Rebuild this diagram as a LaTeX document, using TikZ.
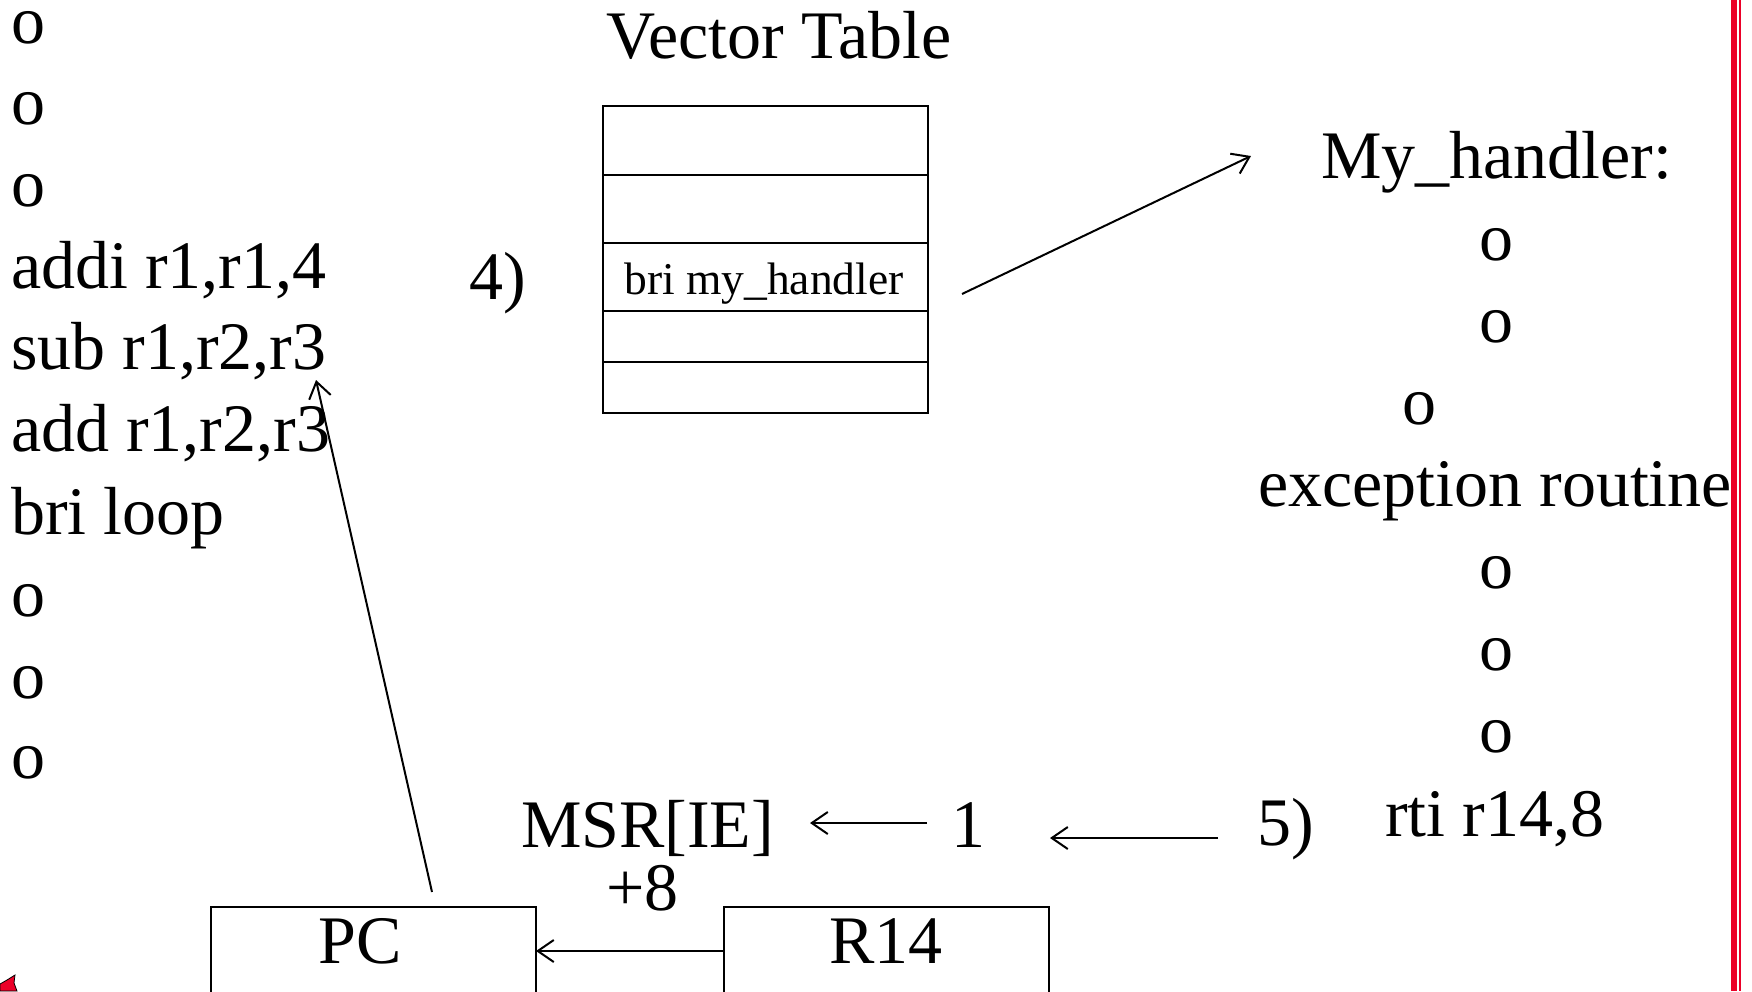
\documentclass[tikz,border=0pt]{standalone}
\usepackage{fontspec}
\setmainfont{Liberation Serif}
\usetikzlibrary{arrows.meta}
\definecolor{barred}{RGB}{235,0,40}
\tikzset{
  txt/.style={inner sep=0pt, outer sep=0pt, font=\fontsize{68}{81}\selectfont},
  smalltxt/.style={inner sep=0pt, outer sep=0pt, font=\fontsize{45.5}{54}\selectfont},
  arr/.style={line width=2pt, -{Straight Barb[length=16pt,width=22pt]}},
  cell/.style={draw, line width=2.4pt, minimum width=325pt, inner sep=0pt, outer sep=0pt, anchor=north west},
  regbox/.style={draw, line width=2.4pt, minimum width=325pt, minimum height=88pt, inner sep=0pt, outer sep=0pt, anchor=north west}
}
\begin{document}
\begin{tikzpicture}[x=1pt,y=-1pt]
\useasboundingbox (0,0) rectangle (1752,991);
\fill[white] (0,0) rectangle (1752,991);
\clip (0,0) rectangle (1752,991);

% program listing on the left
\node[txt, anchor=base west] (l1)  at (11,43)    {o};
\node[txt, anchor=base west] (l2)  at (11,124.7) {o};
\node[txt, anchor=base west] (l3)  at (11,206.4) {o};
\node[txt, anchor=base west] (l4)  at (11,288.1) {addi r1,r1,4};
\node[txt, anchor=base west] (l5)  at (11,369.8) {sub r1,r2,r3};
\node[txt, anchor=base west] (l6)  at (11,451.5) {add r1,r2,r3};
\node[txt, anchor=base west] (l7)  at (11,534.5) {bri loop};
\node[txt, anchor=base west] (l8)  at (11,616.5) {o};
\node[txt, anchor=base west] (l9)  at (11,698) {o};
\node[txt, anchor=base west] (l10) at (11,778.3) {o};

% vector table
\node[txt, anchor=base] (vttitle) at (779,58) {Vector Table};
\node[cell, minimum height=69pt] (row1) at (603,106) {};
\node[cell, minimum height=68pt] (row2) at (603,175) {};
\node[cell, minimum height=68pt] (row3) at (603,243) {};
\node[cell, minimum height=51pt] (row4) at (603,311) {};
\node[cell, minimum height=51pt] (row5) at (603,362) {};
\node[smalltxt, anchor=base] (brimh) at (764,294) {bri my\_handler};
\node[txt, anchor=base west] (step4) at (469,299) {4)};

% exception handler on the right
\node[txt, anchor=base west] (myh) at (1321,178) {My\_handler:};
\node[txt, anchor=base] (h1) at (1496,260) {o};
\node[txt, anchor=base] (h2) at (1496,342) {o};
\node[txt, anchor=base] (h3) at (1419,424) {o};
\node[txt, anchor=base west] (exc) at (1258,506) {exception routine};
\node[txt, anchor=base] (h4) at (1496,588) {o};
\node[txt, anchor=base] (h5) at (1496,670) {o};
\node[txt, anchor=base] (h6) at (1496,752) {o};
\node[txt, anchor=base west] (rti) at (1385,836) {rti r14,8};
\node[txt, anchor=base west] (step5) at (1257,845) {5)};

% return sequence
\node[txt, anchor=base west] (msr) at (521,847) {MSR[IE]};
\node[txt, anchor=base west] (one) at (951,847) {1};
\node[txt, anchor=base west] (plus) at (606,910) {+8};
\node[regbox] (pc)  at (211,907) {};
\node[regbox] (r14) at (724,907) {};
\node[txt, anchor=base] (pclab)  at (360,963) {PC};
\node[txt, anchor=base] (r14lab) at (886,963) {R14};

% connectors
\coordinate (tblout) at (962,294);
\coordinate (hin) at (1251,156);
\draw[arr] (tblout) -- (hin);
\coordinate (pcout) at (432,892);
\coordinate (subin) at (316,380);
\draw[arr] (pcout) -- (subin);
\draw[arr] (r14.west) -- (pc.east);
\coordinate (onetail) at (927,823);
\coordinate (msrhead) at (810,823);
\draw[arr] (onetail) -- (msrhead);
\coordinate (rtitail) at (1218,838);
\coordinate (onehead) at (1050,838);
\draw[arr] (rtitail) -- (onehead);

% red rules at the right edge
\fill[barred] (1731,0) rectangle (1736.5,991);
\fill[barred] (1739,0) rectangle (1741,991);

% red mark in the lower left corner
\filldraw[fill=barred, draw=black, line width=0.8pt]
  (0,991) -- (0,984) -- (7,980) -- (15,975) -- (14,983) -- (17,991) -- cycle;
\end{tikzpicture}
\end{document}
